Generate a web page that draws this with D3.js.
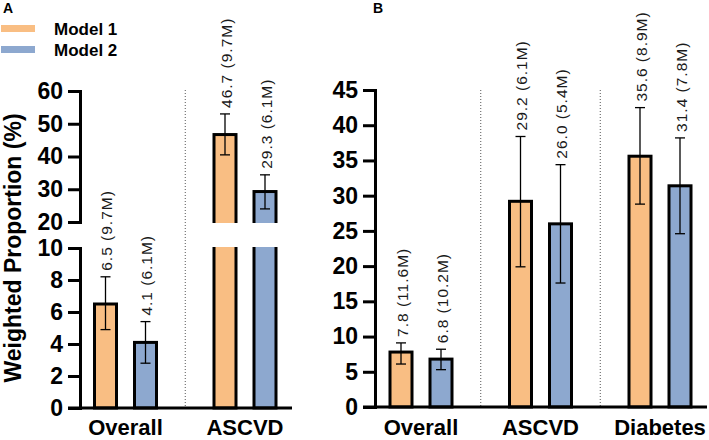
<!DOCTYPE html>
<html>
<head>
<meta charset="utf-8">
<script src="https://cdn.jsdelivr.net/npm/d3@7"></script>
<style>
  body { margin: 0; background: #fff; }
  svg { font-family: "Liberation Sans", Arial, sans-serif; display: block; }
</style>
</head>
<body>
<svg id="chart"></svg>
<script>
// ---- data ----
const models = ['Model 1', 'Model 2'];
const modelColors = ['#F9BE83', '#8DA8CF'];

// Panel A
const groupsA = ['Overall', 'ASCVD'];
const valuesA1 = [6.5, 46.7];
const valuesA2 = [4.1, 29.3];
const lowA1 = [4.9, 40.5];
const highA1 = [8.2, 53.0];
const lowA2 = [2.8, 24.0];
const highA2 = [5.4, 34.4];
const countsA1 = ['9.7M', '9.7M'];
const countsA2 = ['6.1M', '6.1M'];
const ticksALow = [0, 2, 4, 6, 8, 10];
const ticksAHigh = [20, 30, 40, 50, 60];

// Panel B
const groupsB = ['Overall', 'ASCVD', 'Diabetes'];
const valuesB1 = [7.8, 29.2, 35.6];
const valuesB2 = [6.8, 26.0, 31.4];
const lowB1 = [6.1, 19.9, 28.8];
const highB1 = [9.1, 38.4, 42.5];
const lowB2 = [5.3, 17.6, 24.6];
const highB2 = [8.2, 34.4, 38.2];
const countsB1 = ['11.6M', '6.1M', '8.9M'];
const countsB2 = ['10.2M', '5.4M', '7.8M'];
const ticksB = [0, 5, 10, 15, 20, 25, 30, 35, 40, 45];

function buildRows(groups, v1, v2, l1, h1, l2, h2, c1, c2) {
  let rows = [];
  groups.forEach((g, i) => {
    rows.push({ group: g, model: models[0], value: v1[i], low: l1[i], high: h1[i], count: c1[i] });
    rows.push({ group: g, model: models[1], value: v2[i], low: l2[i], high: h2[i], count: c2[i] });
  });
  return rows;
}

const rowsA = buildRows(groupsA, valuesA1, valuesA2, lowA1, highA1, lowA2, highA2, countsA1, countsA2);
const rowsB = buildRows(groupsB, valuesB1, valuesB2, lowB1, highB1, lowB2, highB2, countsB1, countsB2);

const width = 709, height = 440;
const svg = d3.select('#chart').attr('width', width).attr('height', height);

const color = d3.scaleOrdinal().domain(models).range(modelColors);
const inner = d3.scaleBand().domain(models).range([-32.5, 32.5]).paddingInner(0.375);

function styleAxis(g) {
  g.select('.domain').attr('stroke', '#000').attr('stroke-width', 3);
  g.selectAll('.tick line').attr('stroke', '#000').attr('stroke-width', 3);
  g.selectAll('.tick text')
    .attr('fill', '#000')
    .style('font-size', '23px')
    .style('font-weight', 'bold')
    .style('font-family', '"Liberation Sans", Arial, sans-serif');
}

function drawPanel(p) {
  const g = svg.append('g');
  const x = d3.scalePoint().domain(p.groups).range(p.xRange);
  const axisEnd = p.xRange[1] + 47;

  // bars
  g.selectAll('.bar')
    .data(p.rows)
    .join('rect')
    .attr('class', 'bar')
    .attr('x', d => x(d.group) + inner(d.model) + 1.5)
    .attr('width', inner.bandwidth() - 3)
    .attr('y', d => p.y(d.value))
    .attr('height', d => p.y0 - p.y(d.value))
    .attr('fill', d => color(d.model))
    .attr('stroke', '#000')
    .attr('stroke-width', 3);

  // axis break cover
  if (p.breakRange) {
    g.append('rect')
      .attr('x', p.x0 + 3)
      .attr('width', axisEnd - p.x0)
      .attr('y', p.breakRange[0])
      .attr('height', p.breakRange[1] - p.breakRange[0])
      .attr('fill', '#fff');
  }

  // dotted separators between groups
  const seps = p.groups.slice(1).map((gr, i) => (x(p.groups[i]) + x(gr)) / 2);
  g.selectAll('.sep')
    .data(seps)
    .join('line')
    .attr('class', 'sep')
    .attr('x1', d => d).attr('x2', d => d)
    .attr('y1', p.yTop).attr('y2', p.y0)
    .attr('stroke', '#555')
    .attr('stroke-width', 1)
    .attr('stroke-dasharray', '1,2');

  // error bars
  const eb = g.selectAll('.err')
    .data(p.rows)
    .join('g')
    .attr('class', 'err')
    .attr('transform', d => `translate(${x(d.group) + inner(d.model) + inner.bandwidth() / 2},0)`);
  eb.append('line')
    .attr('x1', 0).attr('x2', 0)
    .attr('y1', d => p.y(d.low)).attr('y2', d => p.y(d.high))
    .attr('stroke', '#000').attr('stroke-width', 1.3);
  eb.append('line')
    .attr('x1', -5).attr('x2', 5)
    .attr('y1', d => p.y(d.high)).attr('y2', d => p.y(d.high))
    .attr('stroke', '#000').attr('stroke-width', 1.3);
  eb.append('line')
    .attr('x1', -5).attr('x2', 5)
    .attr('y1', d => p.y(d.low)).attr('y2', d => p.y(d.low))
    .attr('stroke', '#000').attr('stroke-width', 1.3);

  // value labels
  g.selectAll('.vlabel')
    .data(p.rows)
    .join('text')
    .attr('class', 'vlabel')
    .attr('transform', d => {
      let cx = x(d.group) + inner(d.model) + inner.bandwidth() / 2 + 1;
      return `translate(${cx},${p.y(d.high) - 6}) rotate(-90)`;
    })
    .attr('text-anchor', 'start')
    .attr('dominant-baseline', 'central')
    .attr('fill', '#1a1a1a')
    .style('font-size', '15.5px')
    .style('letter-spacing', '1px')
    .text(d => `${d.value.toFixed(1)} (${d.count})`);

  // y axes
  p.axes.forEach(a => {
    g.append('g')
      .attr('transform', `translate(${p.x0},0)`)
      .call(d3.axisLeft(a.scale).tickValues(a.ticks).tickSize(12).tickPadding(5))
      .call(styleAxis);
  });

  // x axis line
  g.append('line')
    .attr('x1', p.x0 - 12).attr('x2', axisEnd)
    .attr('y1', p.y0).attr('y2', p.y0)
    .attr('stroke', '#000').attr('stroke-width', 3);

  // group labels
  g.selectAll('.glabel')
    .data(p.groups)
    .join('text')
    .attr('class', 'glabel')
    .attr('x', d => x(d))
    .attr('y', 435)
    .attr('text-anchor', 'middle')
    .style('font-size', '22px')
    .style('font-weight', 'bold')
    .text(d => d);

  // panel letter
  svg.append('text')
    .attr('x', p.letterX).attr('y', 13)
    .style('font-size', '14px')
    .style('font-weight', 'bold')
    .text(p.letter);
}

// Panel A: broken axis 0-10 / 20-60
const yALow = d3.scaleLinear().domain([0, 10]).range([408, 248]);
const yAHigh = d3.scaleLinear().domain([20, 60]).range([222, 91]);
const yA = d3.scaleLinear().domain([0, 10, 20, 60]).range([408, 248, 222, 91]);

drawPanel({
  letter: 'A', letterX: 3,
  groups: groupsA, rows: rowsA,
  x0: 80, y0: 408, yTop: 90,
  xRange: [125.5, 245],
  y: yA,
  breakRange: [223, 247],
  axes: [{ scale: yALow, ticks: ticksALow }, { scale: yAHigh, ticks: ticksAHigh }]
});

// Panel B
const yB = d3.scaleLinear().domain([0, 45]).range([407, 90]);
drawPanel({
  letter: 'B', letterX: 373,
  groups: groupsB, rows: rowsB,
  x0: 375, y0: 407, yTop: 90,
  xRange: [421, 660],
  y: yB,
  breakRange: null,
  axes: [{ scale: yB, ticks: ticksB }]
});

// y axis title
svg.append('text')
  .attr('transform', 'translate(21,248) rotate(-90)')
  .attr('text-anchor', 'middle')
  .style('font-size', '23px')
  .style('font-weight', 'bold')
  .text('Weighted Proportion (%)');

// legend
const legend = svg.selectAll('.legend')
  .data(models)
  .join('g')
  .attr('class', 'legend')
  .attr('transform', (d, i) => `translate(0,${25 + i * 21})`);
legend.append('rect')
  .attr('x', 1).attr('y', 0)
  .attr('width', 34).attr('height', 7)
  .attr('fill', d => color(d));
legend.append('text')
  .attr('x', 54).attr('y', 10)
  .style('font-size', '17px')
  .style('font-weight', 'bold')
  .text(d => d);
</script>
</body>
</html>
